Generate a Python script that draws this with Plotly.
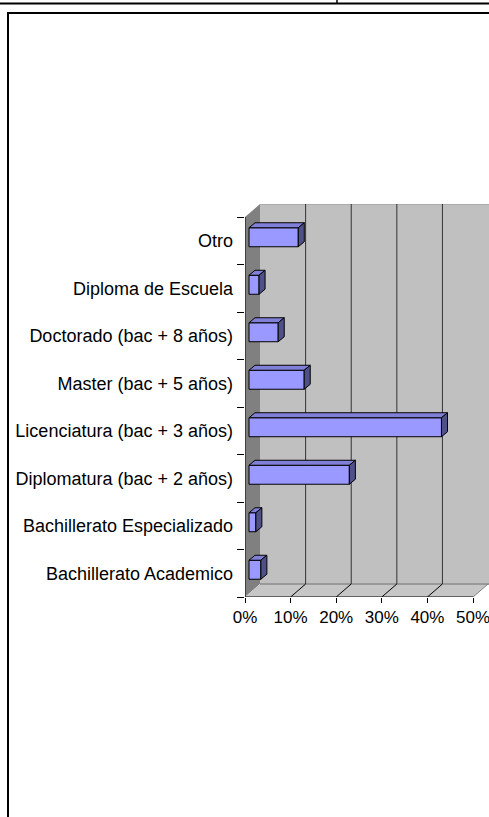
import plotly.graph_objects as go

# Data (bottom to top, as drawn)
categories = [
    "Bachillerato Academico",
    "Bachillerato Especializado",
    "Diplomatura (bac + 2 años)",
    "Licenciatura (bac + 3 años)",
    "Master (bac + 5 años)",
    "Doctorado (bac + 8 años)",
    "Diploma de Escuela",
    "Otro",
]
values = [2.6, 1.5, 22.0, 42.2, 12.1, 6.4, 2.2, 10.8]
x_ticks = [0, 10, 20, 30, 40, 50]
x_ticktext = ["0%", "10%", "20%", "30%", "40%", "50%"]

W, H = 489, 817
L, R, T, B = 245, 0, 204, 220
X_MAX = 53.5
Y_MIN = -0.5

# 3D depth of the walls / bars in data units
DXW, DYW = 3.29, 0.274
FX, FY = 0.88, 0.074          # bar front face offset into depth
BDX, BDY = 1.32, 0.105        # bar depth
BW = 0.4

FRONT = "#9999FF"
TOP = "#8080D8"
SIDE = "#505088"
WALL = "#C0C0C0"
SIDE_WALL = "#808080"
FONT = "Liberation Sans, Arial, sans-serif"

n = len(categories)
Y_TOP = n - 0.5
Y_MAX = Y_TOP + DYW


def px_x(p):
    return (p - L) / (W - L - R)


def px_y(p):
    return (H - B - p) / (H - T - B)


fig = go.Figure()

# front faces
fig.add_trace(go.Bar(
    y=[i + FY for i in range(n)], x=values, base=FX,
    orientation="h", width=BW,
    marker=dict(color=FRONT, line=dict(color="black", width=1)),
    hoverinfo="skip", showlegend=False,
))

# top and side faces
top_x, top_y, side_x, side_y = [], [], [], []
for i, v in enumerate(values):
    y0, y1 = i + FY - BW / 2, i + FY + BW / 2
    x1 = FX + v
    top_x += [FX, x1, x1 + BDX, FX + BDX, FX, None]
    top_y += [y1, y1, y1 + BDY, y1 + BDY, y1, None]
    side_x += [x1, x1 + BDX, x1 + BDX, x1, x1, None]
    side_y += [y0, y0 + BDY, y1 + BDY, y1, y0, None]

for xs, ys, c in [(top_x, top_y, TOP), (side_x, side_y, SIDE)]:
    fig.add_trace(go.Scatter(
        x=xs, y=ys, mode="lines", fill="toself", fillcolor=c,
        line=dict(color="black", width=1), hoverinfo="skip", showlegend=False,
    ))

shapes = []
# back wall
shapes.append(dict(type="rect", xref="x", yref="y", layer="below",
                   x0=DXW, x1=X_MAX + 1, y0=Y_MIN + DYW, y1=Y_MAX,
                   fillcolor=WALL, line=dict(width=0)))
# side wall
shapes.append(dict(type="path", xref="x", yref="y", layer="below",
                   path=f"M0,{Y_MIN} L0,{Y_TOP} L{DXW},{Y_MAX} L{DXW},{Y_MIN + DYW} Z",
                   fillcolor=SIDE_WALL, line=dict(width=0)))
# floor
shapes.append(dict(type="path", xref="x", yref="y", layer="below",
                   path=f"M0,{Y_MIN} L50,{Y_MIN} L{50 + DXW},{Y_MIN + DYW} L{DXW},{Y_MIN + DYW} Z",
                   fillcolor="#C6C6C6", line=dict(width=0)))
# wall edges
shapes.append(dict(type="line", xref="x", yref="y", layer="below",
                   x0=DXW, x1=X_MAX + 1, y0=Y_MIN + DYW, y1=Y_MIN + DYW,
                   line=dict(color="#999999", width=2)))
shapes.append(dict(type="line", xref="x", yref="y", layer="below",
                   x0=DXW, x1=X_MAX + 1, y0=Y_MAX, y1=Y_MAX,
                   line=dict(color="#999999", width=1)))
shapes.append(dict(type="line", xref="x", yref="y", layer="below",
                   x0=50, x1=50 + DXW, y0=Y_MIN, y1=Y_MIN + DYW,
                   line=dict(color="#808080", width=1)))
# gridlines on the back wall and floor diagonals
for t in x_ticks[1:-1]:
    shapes.append(dict(type="line", xref="x", yref="y", layer="below",
                       x0=t + DXW, x1=t + DXW, y0=Y_MIN + DYW, y1=Y_MAX,
                       line=dict(color="#333333", width=1)))
    shapes.append(dict(type="line", xref="x", yref="y", layer="below",
                       x0=t, x1=t + DXW, y0=Y_MIN, y1=Y_MIN + DYW,
                       line=dict(color="black", width=1)))
# front axes
shapes.append(dict(type="line", xref="x", yref="y",
                   x0=0, x1=0, y0=Y_MIN, y1=Y_TOP, line=dict(color="black", width=1)))
shapes.append(dict(type="line", xref="x", yref="y",
                   x0=0, x1=50, y0=Y_MIN, y1=Y_MIN, line=dict(color="black", width=1)))

# page frame
shapes.append(dict(type="line", xref="paper", yref="paper",
                   x0=px_x(0), x1=px_x(W), y0=px_y(3.5), y1=px_y(3.5),
                   line=dict(color="black", width=2)))
shapes.append(dict(type="line", xref="paper", yref="paper",
                   x0=px_x(337), x1=px_x(337), y0=px_y(0), y1=px_y(3.5),
                   line=dict(color="black", width=1.5)))
shapes.append(dict(type="line", xref="paper", yref="paper",
                   x0=px_x(7), x1=px_x(W), y0=px_y(13), y1=px_y(13),
                   line=dict(color="black", width=2)))
shapes.append(dict(type="line", xref="paper", yref="paper",
                   x0=px_x(8), x1=px_x(8), y0=px_y(12), y1=px_y(H + 2),
                   line=dict(color="black", width=2)))

fig.update_layout(
    width=W, height=H,
    margin=dict(l=L, r=R, t=T, b=B),
    paper_bgcolor="white", plot_bgcolor="white",
    font=dict(family=FONT, size=18, color="black"),
    shapes=shapes,
    showlegend=False,
    xaxis=dict(
        range=[0, X_MAX], tickvals=x_ticks, ticktext=x_ticktext,
        ticks="outside", ticklen=5, tickcolor="black",
        tickfont=dict(size=17), ticklabeloverflow="allow",
        showgrid=False, zeroline=False, showline=False, fixedrange=True,
    ),
    yaxis=dict(
        range=[Y_MIN, Y_MAX], tickvals=list(range(n)), ticktext=categories,
        ticks="", ticklabelstandoff=11,
        minor=dict(tickvals=[i - 0.5 for i in range(n + 1)], ticks="outside",
                   ticklen=7, tickcolor="black", showgrid=False),
        showgrid=False, zeroline=False, showline=False, fixedrange=True,
    ),
)

fig.write_html(
    "out.html",
    config={"displayModeBar": False},
    post_script="document.body.style.margin='0';",
)
